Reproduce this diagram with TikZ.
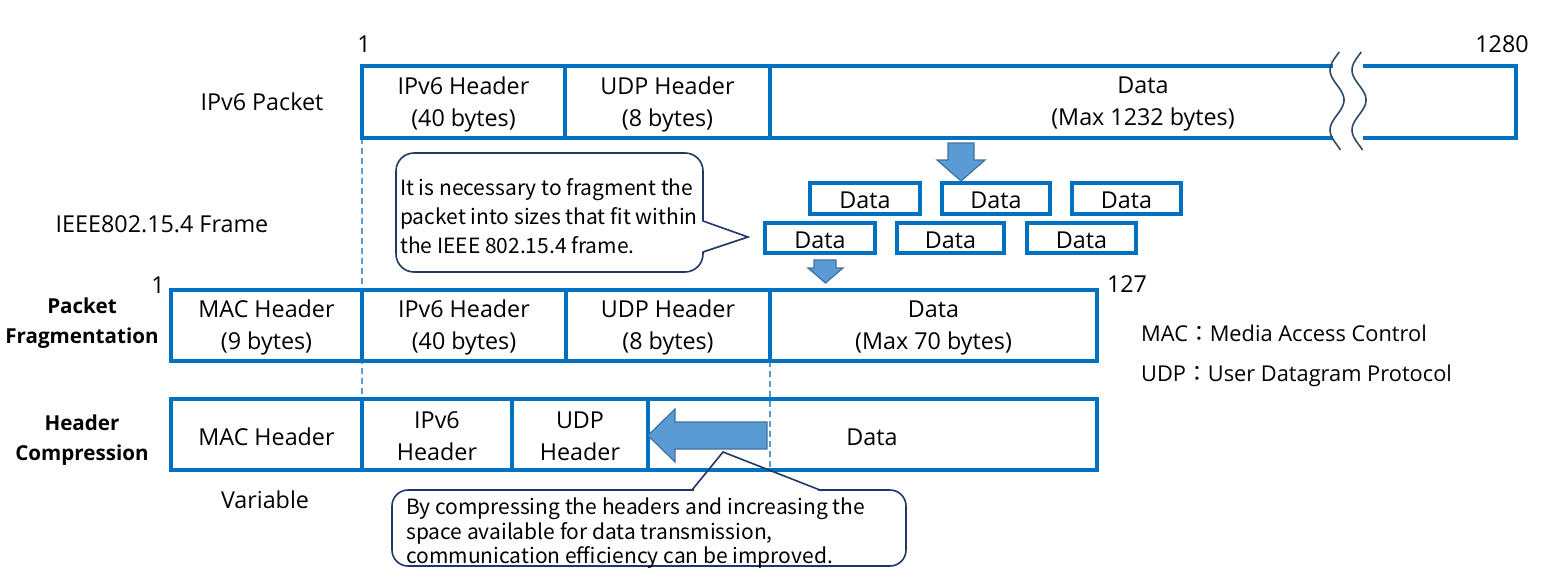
\documentclass[tikz,border=0pt]{standalone}
\usepackage{fontspec}
\setmainfont{Open Sans}
\newfontfamily\cjkfont{Noto Sans CJK JP}
\definecolor{boxblue}{HTML}{0070C0}
\definecolor{arrowfill}{HTML}{5B9BD5}
\definecolor{arrowline}{HTML}{41719C}
\definecolor{callline}{HTML}{203864}
\definecolor{dashblue}{HTML}{5B9BD5}
\definecolor{wavecol}{HTML}{2E4A66}
\newcommand\cellnode[6]{\node[cell, minimum width={#3-#2}, minimum height={#5-#4}] (#1) at ({(#2+#3)/2},{(#4+#5)/2}) {};
  \node[celltext] (#1-t) at (#1.center) {#6};}
\tikzset{
  cell/.style={draw=boxblue, line width=3.6pt, inner sep=0pt},
  celltext/.style={inner sep=0pt, align=center, yshift=-2pt, font=\fontsize{23.3}{32}\selectfont},
  lbl/.style={inner sep=0pt, font=\fontsize{23.3}{28}\selectfont},
  rowlbl/.style={inner sep=0pt, align=center, font=\fontsize{20.6}{30}\selectfont\bfseries},
  guide/.style={draw=dashblue, line width=1.3pt, dash pattern=on 6pt off 4pt},
  blockarrow/.style={fill=arrowfill, draw=arrowline, line width=1.2pt, line join=miter},
  callout/.style={draw=callline, line width=1.6pt},
  calltext/.style={inner sep=0pt, align=left, anchor=north west},
  waveline/.style={draw=wavecol, line width=1.6pt},
}
\begin{document}
\begin{tikzpicture}[x=1pt,y=-1pt]
\useasboundingbox (0,0) rectangle (1549,584);
% guides
\draw[guide] (362,138) -- (362,399);
\draw[guide] (770,361) -- (770,470);
% row 1
\cellnode{r1ip}{362}{565}{66}{138}{IPv6 Header\\(40 bytes)}
\cellnode{r1udp}{565}{770}{66}{138}{UDP Header\\(8 bytes)}
\cellnode{r1data}{770}{1516}{66}{138}{Data\\(Max 1232 bytes)}
\fill[white] (1333,60) rectangle (1363,145);
\draw[waveline] plot[domain=52:150, samples=60, smooth] ({1337-7*cos((\x-70)*6)}, \x);
\draw[waveline] plot[domain=52:150, samples=60, smooth] ({1359-7*cos((\x-70)*6)}, \x);
\node[lbl] (n1a) at (364,44) {1};
\node[lbl] (n1280) at (1502,44) {1280};
\node[lbl] (lipv6) at (262,102) {IPv6 Packet};
\node[lbl] (lieee) at (162,224) {IEEE802.15.4 Frame};
% fragments
\cellnode{fa1}{810}{920}{183}{214}{Data}
\cellnode{fa2}{942}{1050}{183}{214}{Data}
\cellnode{fa3}{1072}{1181}{183}{214}{Data}
\cellnode{fb1}{765}{875}{223}{253}{Data}
\cellnode{fb2}{897}{1004}{223}{253}{Data}
\cellnode{fb3}{1027}{1136}{223}{253}{Data}
% down arrows
\draw[blockarrow] (948,143) -- (974,143) -- (974,160) -- (985,160) -- (961,181) -- (937,160) -- (948,160) -- cycle;
\draw[blockarrow] (814,260) -- (836,260) -- (836,268) -- (843,268) -- (825.5,283) -- (808,268) -- (814,268) -- cycle;
% row 2
\cellnode{r2mac}{171}{362}{290}{361}{MAC Header\\(9 bytes)}
\cellnode{r2ip}{362}{566}{290}{361}{IPv6 Header\\(40 bytes)}
\cellnode{r2udp}{566}{770}{290}{361}{UDP Header\\(8 bytes)}
\cellnode{r2data}{770}{1097}{290}{361}{Data\\(Max 70 bytes)}
\node[lbl] (n1b) at (158,285) {1};
\node[lbl] (n127) at (1127,284) {127};
\node[rowlbl] (lfrag) at (82,323) {Packet\\Fragmentation};
% row 3
\cellnode{r3mac}{171}{362}{399}{470}{MAC Header}
\cellnode{r3ip}{362}{512}{399}{470}{IPv6\\Header}
\cellnode{r3udp}{512}{648}{399}{470}{UDP\\Header}
\cellnode{r3data}{648}{1097}{399}{470}{}
\node[lbl] (l3data) at (872,437) {Data};
\node[rowlbl] (lcomp) at (82,440) {Header\\Compression};
\node[lbl] (lvar) at (265,500) {Variable};
% left arrow
\draw[blockarrow] (767,422) -- (767,449) -- (675,449) -- (675,462) -- (648,435.5) -- (675,409) -- (675,422) -- cycle;
% legend
\node[lbl, anchor=west, font=\fontsize{21.8}{28}\selectfont] (legmac) at (1141,333) {MAC{\cjkfont ：}Media Access Control};
\node[lbl, anchor=west, font=\fontsize{21.8}{28}\selectfont] (legudp) at (1141,376) {UDP{\cjkfont ：}User Datagram Protocol};
% callout 1
\draw[callout, fill=white, rounded corners=18pt] (396,153) rectangle (703,272);
\fill[white] (701,221) -- (748,237) -- (701,252) -- cycle;
\draw[callout, line join=miter] (703,221) -- (748,237) -- (703,252);
\node[calltext, font=\cjkfont\fontsize{21}{29}\selectfont] (ctext1) at (400,178) {It is necessary to fragment the\\packet into sizes that fit within\\the IEEE 802.15.4 frame.};
% callout 2
\draw[callout, fill=white, rounded corners=16pt] (392,490) rectangle (906,566);
\draw[white, line width=3pt] (694,490) -- (818,490);
\draw[callout, line join=miter] (692,490) -- (723,452) -- (820,490);
\node[calltext, font=\cjkfont\fontsize{21}{24.5}\selectfont] (ctext2) at (406,498) {By compressing the headers and increasing the\\space available for data transmission,\\communication efficiency can be improved.};
\end{tikzpicture}
\end{document}
